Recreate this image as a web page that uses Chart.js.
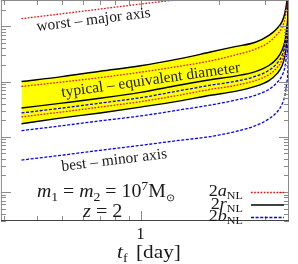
<!DOCTYPE html>
<html><head><meta charset="utf-8">
<script src="https://cdn.jsdelivr.net/npm/chart.js@4"></script>
<style>html,body{margin:0;padding:0;background:#fff}</style>
</head><body>
<canvas id="c" width="298" height="264"></canvas>
<script>
// time [day]
const tDays = [0.35, 0.5, 0.7, 1.0, 1.4, 1.85, 2.3, 2.75, 3.1, 3.33, 3.48, 3.57, 3.63, 3.67, 3.70];
// 2a_NL (red dotted)
const aWorst = [1378, 1691, 2058, 2537, 3074, 3835, 4902, 6016, 8013, 10670, 14210, 20550, 33570, 70150, 100000];
const aMid = [81.8, 98.3, 118.2, 148.0, 189.3, 237.1, 303.0, 387.4, 516.2, 716.1, 953.4, 1378, 2347, 4517, 100000];
const aLow = [23.0, 28.2, 34.6, 43.4, 56.6, 72.3, 85.2, 104.5, 133.7, 178.0, 247.0, 371.8, 659.6, 1496, 100000];
// 2r_NL (black solid)
const rTop = [100.3, 123.1, 154.2, 193.2, 257.3, 342.7, 429.2, 516.2, 687.4, 915.1, 1219, 1762, 2879, 5775, 100000];
const rMid = [33.2, 40.8, 50.0, 64.0, 86.0, 108.0, 126.0, 152.0, 196.0, 262.0, 370.0, 545.0, 980.0, 2162, 100000];
const rLow = [17.3, 22.1, 27.1, 34.6, 44.3, 56.6, 66.6, 81.8, 104.5, 139.2, 193.2, 290.9, 516.2, 1219, 100000];
// 2b_NL (blue dashed)
const bTop = [27.1, 33.2, 40.8, 51.1, 68.0, 86.0, 101.0, 124.0, 160.0, 214.0, 298.0, 450.0, 800.0, 1762, 100000];
const bMid = [12.96, 15.9, 19.5, 23.9, 30.6, 37.6, 46.1, 56.6, 72.3, 96.3, 128.3, 185.4, 315.7, 687.4, 100000];
const bBest = [3.80, 4.66, 5.71, 7.02, 8.61, 10.14, 12.44, 15.9, 21.2, 28.2, 39.1, 56.6, 96.3, 237.1, 100000];

const xTickValues = [0.3, 0.4, 0.5, 0.6, 0.7, 0.8, 0.9, 1, 2, 3];
const xTickLabelled = [1];
const yTickValues = [0.3,0.4,0.5,0.6,0.7,0.8,0.9,1,2,3,4,5,6,7,8,9,10,20,30,40,50,60,70,80,90,100,200,300,400,500,600,700,800,900,1000,2000,3000];
const yMajor = [1, 10, 100, 1000];

const legendItems = [["2", "a", "NL"], ["2", "r", "NL"], ["2", "b", "NL"]];

const RED = '#ff0000', BLUE = '#0000ff', BLK = '#000000';
const DOT = [1.6, 1.6], DASH = [3, 1.6];
function ds(vals, color, dash, width, extra) {
  return Object.assign({
    data: tDays.map((t, i) => ({x: t, y: vals[i]})),
    borderColor: color, backgroundColor: '#ffff00',
    borderDash: dash, borderWidth: width, pointRadius: 0, fill: false,
    cubicInterpolationMode: 'monotone', showLine: true
  }, extra || {});
}

const SERIF = "'Liberation Serif', 'Times New Roman', serif";
function rotText(ctx, str, x, y, deg, font) {
  ctx.save(); ctx.translate(x, y); ctx.rotate(deg * Math.PI / 180);
  ctx.font = font; ctx.textBaseline = 'alphabetic'; ctx.fillText(str, 0, 0); ctx.restore();
}
function runs(ctx, x, y, parts, sx, measureOnly) {
  let w = 0;
  ctx.save(); ctx.translate(x, y); ctx.scale(sx, 1);
  for (const [t, f, dy] of parts) {
    ctx.font = f;
    if (!measureOnly) ctx.fillText(t, w, dy);
    w += ctx.measureText(t).width;
  }
  ctx.restore();
  return w * sx;
}

const deco = {
  id: 'deco',
  afterDatasetsDraw(chart) {
    const {ctx, chartArea: a, scales: {x, y}} = chart;
    ctx.save();
    ctx.strokeStyle = '#8a8a8a'; ctx.lineWidth = 1;
    ctx.beginPath();
    xTickValues.forEach(v => {
      const px = Math.round(x.getPixelForValue(v)) + 0.5;
      const L = xTickLabelled.includes(v) ? 10 : 5;
      ctx.moveTo(px, a.bottom); ctx.lineTo(px, a.bottom - L);
      ctx.moveTo(px, a.top); ctx.lineTo(px, a.top + L);
    });
    yTickValues.forEach(v => {
      const py = Math.round(y.getPixelForValue(v)) + 0.5;
      const L = yMajor.includes(v) ? 10 : 5;
      ctx.moveTo(a.left, py); ctx.lineTo(a.left + L, py);
      ctx.moveTo(a.right, py); ctx.lineTo(a.right - L, py);
    });
    ctx.stroke();
    ctx.strokeStyle = '#8a8a8a';
    ctx.strokeRect(a.left + 0.5, a.top + 0.5, a.right - a.left - 1, a.bottom - a.top - 1);
    ctx.strokeStyle = '#444';
    ctx.beginPath(); ctx.moveTo(a.left, a.bottom - 0.5); ctx.lineTo(a.right, a.bottom - 0.5); ctx.stroke();

    ctx.fillStyle = '#1a1a1a';
    rotText(ctx, 'worst \u2013 major axis', 37, 31, -7, '15.5px ' + SERIF);
    rotText(ctx, 'typical \u2013 equivalent diameter', 62, 97, -8, '15.5px ' + SERIF);
    rotText(ctx, 'best \u2013 minor axis', 62, 171, -7, '15.5px ' + SERIF);

    const IT = 'italic 18px ' + SERIF, RM = '18px ' + SERIF, SB = '12.5px ' + SERIF;
    runs(ctx, 37, 197, [['m', IT, 0], ['1', SB, 4], [' = ', RM, 0], ['m', IT, 0], ['2', SB, 4], [' = 10', RM, 0], ['7', SB, -7], ['M', RM, 0], ['\u2299', '10px ' + SERIF, 4]], 1.1);
    runs(ctx, 83, 217, [['z', IT, 0], [' = 2', RM, 0]], 1.12);

    const rows = [[RED, DOT, 1.3], [BLK, [], 1.4], [BLUE, DASH, 1.3]];
    const LI = 'italic 16.5px ' + SERIF, LR = '16.5px ' + SERIF;
    legendItems.forEach((it, i) => {
      const ly = 192 + i * 12.5;
      const parts = [[it[0], LR, 0], [it[1], LI, 0], [it[2], '11px ' + SERIF, 3]];
      const w = runs(ctx, 0, 0, parts, 1.1, true);
      runs(ctx, 243 - w, ly + 4, parts, 1.1);
      ctx.strokeStyle = rows[i][0]; ctx.setLineDash(rows[i][1]); ctx.lineWidth = rows[i][2];
      ctx.beginPath(); ctx.moveTo(251, ly + 0.5); ctx.lineTo(284, ly + 0.5); ctx.stroke();
    });
    ctx.setLineDash([]);
    runs(ctx, 117, 258, [['t', 'italic 19px ' + SERIF, 0], ['f', '12.5px ' + SERIF, 4]], 1.12);
    runs(ctx, 136, 258, [['[day]', '19px ' + SERIF, 0]], 1.12);
    ctx.restore();
  }
};

new Chart(document.getElementById('c'), {
  type: 'scatter',
  data: {
    datasets: [
      ds(aWorst, RED, DOT, 1.3),
      ds(rTop, BLK, [], 1.4, {fill: 6}),
      ds(aMid, RED, DOT, 1.3),
      ds(rMid, BLK, [], 1.4),
      ds(bTop, BLUE, DASH, 1.3),
      ds(aLow, RED, DOT, 1.3),
      ds(rLow, BLK, [], 1.4),
      ds(bMid, BLUE, DASH, 1.3),
      ds(bBest, BLUE, DASH, 1.3)
    ]
  },
  options: {
    responsive: false, animation: false, devicePixelRatio: 1,
    layout: {padding: {left: 0, top: 0, right: 9, bottom: 15}},
    plugins: {legend: {display: false}, tooltip: {enabled: false}, filler: {drawTime: 'beforeDatasetsDraw'}},
    scales: {
      x: {
        type: 'logarithmic', min: 0.292, max: 3.70,
        grid: {display: false, drawTicks: false}, border: {display: false},
        afterBuildTicks: s => { s.ticks = xTickValues.map(v => ({value: v})); },
        ticks: {autoSkip: false, maxRotation: 0, padding: 4, color: '#1a1a1a',
          font: {family: SERIF, size: 17, lineHeight: 20 / 17},
          callback: v => xTickLabelled.includes(v) ? String(v) : ''}
      },
      y: {type: 'logarithmic', min: 0.3, max: 3000, display: false}
    }
  },
  plugins: [deco]
});
</script>
</body></html>
